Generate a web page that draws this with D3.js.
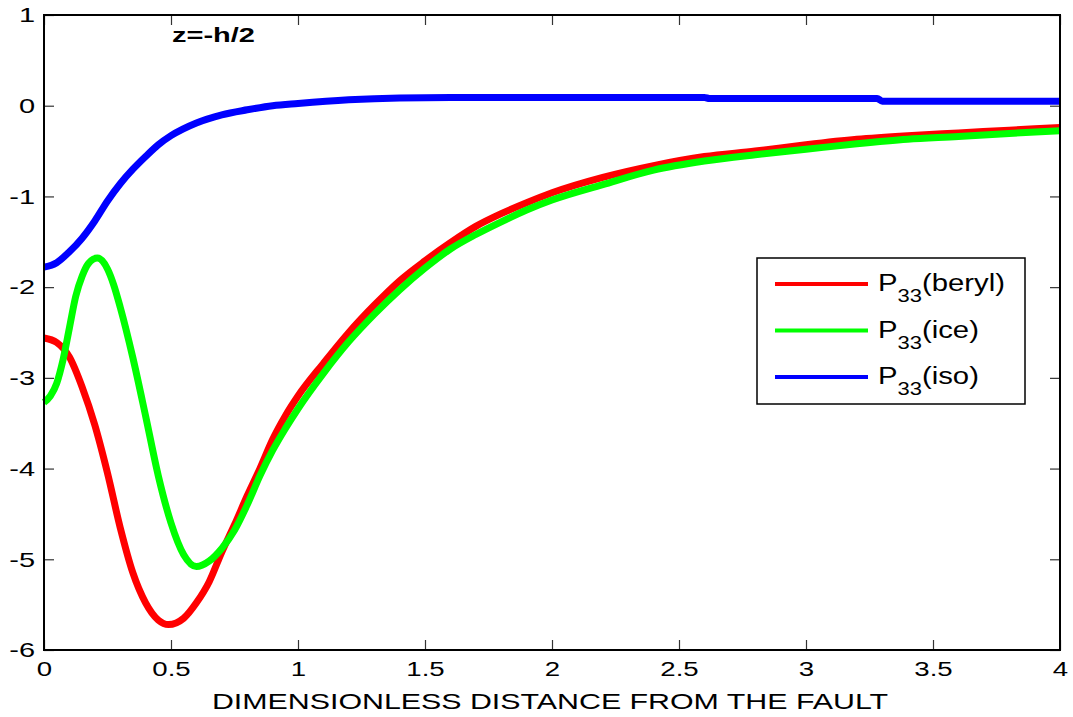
<!DOCTYPE html>
<html>
<head>
<meta charset="utf-8">
<script src="https://cdn.jsdelivr.net/npm/d3@7"></script>
<style>
  body { margin: 0; background: #fff; }
  text { font-family: "Liberation Sans", Arial, sans-serif; }
</style>
</head>
<body>
<div class="chart"></div>
<script>
// values
const xBeryl = [0, 0.05, 0.1, 0.15, 0.2, 0.25, 0.3, 0.35, 0.4, 0.45, 0.49, 0.55, 0.6, 0.65, 0.7, 0.75, 0.8, 0.85, 0.9, 0.95, 1.0,
    1.1, 1.2, 1.3, 1.4, 1.5, 1.6, 1.7, 1.8, 1.9, 2.0, 2.2, 2.4, 2.6, 2.8, 3.0, 3.2, 3.4, 3.6, 3.8, 4.0];
const beryl = [-2.56, -2.61, -2.77, -3.1, -3.52, -4.05, -4.65, -5.15, -5.48, -5.67, -5.72, -5.65, -5.48, -5.25, -4.92, -4.62, -4.3, -4.0, -3.68, -3.42, -3.2,
    -2.84, -2.5, -2.2, -1.93, -1.71, -1.51, -1.33, -1.19, -1.07, -0.96, -0.79, -0.66, -0.56, -0.5, -0.43, -0.37, -0.33, -0.3, -0.27, -0.24];

const xIce = [0, 0.025, 0.05, 0.075, 0.1, 0.125, 0.15, 0.175, 0.21, 0.25, 0.275, 0.3, 0.35, 0.4, 0.45, 0.5, 0.55, 0.6, 0.65, 0.7, 0.75, 0.8, 0.85, 0.9, 0.95, 1.0,
    1.1, 1.2, 1.3, 1.4, 1.5, 1.6, 1.7, 1.8, 1.9, 2.0, 2.2, 2.4, 2.6, 2.8, 3.0, 3.2, 3.4, 3.6, 3.8, 4.0];
const ice = [-3.27, -3.2, -3.06, -2.8, -2.45, -2.1, -1.88, -1.74, -1.68, -1.8, -1.98, -2.22, -2.78, -3.42, -4.08, -4.6, -4.95, -5.08, -5.02, -4.88, -4.68, -4.4, -4.08, -3.8, -3.56, -3.34,
    -2.95, -2.6, -2.3, -2.03, -1.79, -1.58, -1.42, -1.28, -1.15, -1.04, -0.87, -0.71, -0.61, -0.54, -0.48, -0.42, -0.37, -0.34, -0.305, -0.275];

const xIso = [0, 0.05, 0.1, 0.15, 0.2, 0.25, 0.3, 0.35, 0.4, 0.45, 0.5, 0.6, 0.7, 0.8, 0.9, 1.0, 1.2, 1.4, 1.6, 2.0, 2.6, 2.62, 3.28, 3.3, 4.0];
const iso = [-1.78, -1.73, -1.61, -1.46, -1.27, -1.05, -0.86, -0.7, -0.56, -0.43, -0.33, -0.19, -0.1, -0.045, 0.0, 0.025, 0.065, 0.085, 0.09, 0.09, 0.09, 0.08, 0.08, 0.05, 0.05];

const xTicks = [0, 0.5, 1, 1.5, 2, 2.5, 3, 3.5, 4];
const yTicks = [1, 0, -1, -2, -3, -4, -5, -6];

const seriesNames = ['beryl', 'ice', 'iso'];
const seriesColors = ['#ff0000', '#00ff00', '#0000ff'];

const margin = {top: 15, right: 13, bottom: 67, left: 44};
const width = 1073 - margin.left - margin.right;
const height = 717 - margin.top - margin.bottom;
const sx = 1.38; // the reference text is stretched sideways

let svg = d3
    .select('.chart')
    .append('svg')
    .attr('width', width + margin.left + margin.right)
    .attr('height', height + margin.top + margin.bottom);

const group = svg
    .append('g')
    .attr('transform', 'translate(' + margin.left + ',' + margin.top + ')');

const xScale = d3.scaleLinear().domain([0, 4]).range([0, width]);
const yScale = d3.scaleLinear().domain([-6, 1]).range([height, 0]);

// lines
const line = d3.line()
    .x(d => xScale(d[0]))
    .y(d => yScale(d[1]))
    .curve(d3.curveMonotoneX);

const series = [
    d3.zip(xBeryl, beryl),
    d3.zip(xIce, ice),
    d3.zip(xIso, iso)
];

group.selectAll('path.series')
    .data(series)
    .enter()
    .append('path')
    .attr('class', 'series')
    .attr('d', line)
    .attr('fill', 'none')
    .attr('stroke', (d, i) => seriesColors[i])
    .attr('stroke-width', 7)
    .attr('stroke-linejoin', 'round');

// axes (ticks inside, MATLAB box)
const x_axis = d3.axisBottom(xScale).tickValues(xTicks).tickSize(-10).tickSizeOuter(0).tickPadding(12).tickFormat(d => String(d));
const y_axis = d3.axisLeft(yScale).tickValues(yTicks).tickSize(-10).tickSizeOuter(0).tickPadding(8).tickFormat(d => String(d));
const x_top = d3.axisTop(xScale).tickValues(xTicks).tickSize(-10).tickSizeOuter(0).tickFormat('');
const y_right = d3.axisRight(yScale).tickValues(yTicks).tickSize(-10).tickSizeOuter(0).tickFormat('');

let x_container = group.append('g')
    .attr('transform', `translate(0, ${height})`)
    .call(x_axis);
let y_container = group.append('g').call(y_axis);
group.append('g').call(x_top);
group.append('g').attr('transform', `translate(${width}, 0)`).call(y_right);

group.selectAll('.domain').remove();
group.selectAll('.tick line').attr('stroke', '#333').attr('stroke-width', 1.2);

x_container.selectAll('text')
    .attr('font-size', 20)
    .attr('fill', '#000')
    .attr('transform', `scale(${sx},1)`);

y_container.selectAll('text')
    .attr('font-size', 21)
    .attr('fill', '#000')
    .attr('x', -9 / sx)
    .attr('transform', `scale(${sx},1)`);

group.append('rect')
    .attr('width', width)
    .attr('height', height)
    .attr('fill', 'none')
    .attr('stroke', '#000')
    .attr('stroke-width', 2);

// x title
svg.append('text')
    .attr('transform', `translate(${margin.left + width / 2 - 2}, 709) scale(${sx},1)`)
    .attr('text-anchor', 'middle')
    .attr('font-size', 22)
    .text('DIMENSIONLESS DISTANCE FROM THE FAULT');

// label inside the plot
svg.append('text')
    .attr('transform', `translate(172, 42) scale(1.45,1)`)
    .attr('font-size', 20)
    .attr('font-weight', 'bold')
    .text('z=-h/2');

// legend
const legend = svg.append('g').attr('transform', 'translate(757, 258)');
legend.append('rect')
    .attr('width', 268)
    .attr('height', 146)
    .attr('fill', '#fff')
    .attr('stroke', '#000')
    .attr('stroke-width', 1.5);

const rows = legend.selectAll('g.row')
    .data(seriesNames)
    .enter()
    .append('g')
    .attr('class', 'row')
    .attr('transform', (d, i) => `translate(0, ${26 + i * 46.5})`);

rows.append('line')
    .attr('x1', 18)
    .attr('x2', 111)
    .attr('stroke', (d, i) => seriesColors[i])
    .attr('stroke-width', 4);

const labels = rows.append('text')
    .attr('transform', `translate(121, 7) scale(1.22,1)`)
    .attr('font-size', 24);
labels.append('tspan').text('P');
labels.append('tspan').attr('font-size', 18).attr('dy', 11).text('33');
labels.append('tspan').attr('dy', -11).text(d => '(' + d + ')');
</script>
</body>
</html>
